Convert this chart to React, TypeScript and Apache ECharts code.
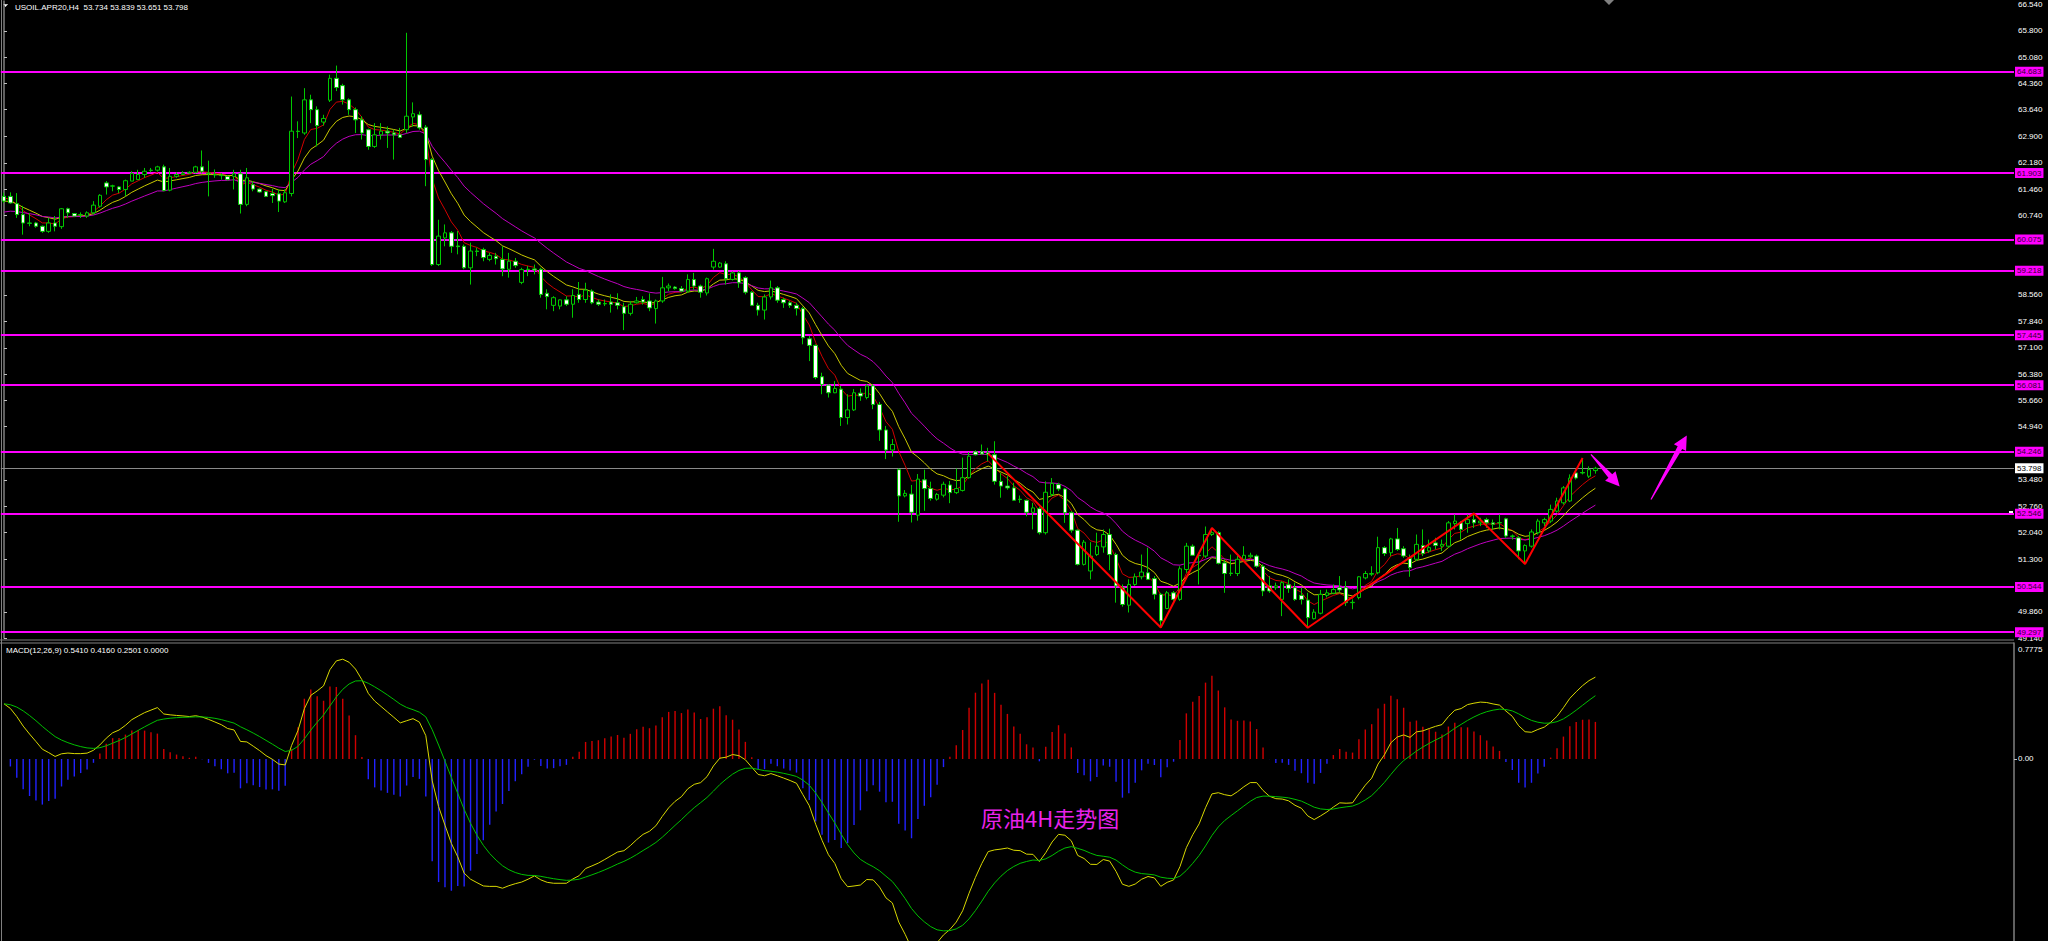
import React, { useEffect, useRef } from "react";
import * as echarts from "echarts";

const FONT = '"Liberation Sans", Arial, sans-serif';

// [open, close, low, high] for each H4 bar
const CANDLES: number[][] = [
  [61.26, 61.13, 61.08, 61.36], [61.26, 61.08, 61.06, 61.37], [61.06, 60.76, 60.67, 61.35], [60.76, 60.53, 60.21, 61.0],
  [60.53, 60.52, 60.44, 60.8], [60.53, 60.44, 60.4, 60.56], [60.44, 60.3, 60.26, 60.46], [60.3, 60.53, 60.26, 60.67],
  [60.53, 60.44, 60.3, 60.72], [60.43, 60.92, 60.37, 60.94], [60.92, 60.81, 60.67, 60.95], [60.79, 60.72, 60.7, 60.8],
  [60.75, 60.76, 60.67, 60.82], [60.72, 60.81, 60.67, 60.85], [60.81, 61.02, 60.76, 61.13], [60.99, 61.29, 60.95, 61.32],
  [61.63, 61.52, 61.31, 61.68], [61.54, 61.55, 61.4, 61.58], [61.52, 61.45, 61.35, 61.54], [61.45, 61.69, 61.26, 61.72],
  [61.68, 61.89, 61.68, 61.95], [61.72, 61.86, 61.72, 61.99], [61.86, 61.95, 61.77, 62.04], [61.97, 61.98, 61.92, 62.04],
  [61.98, 62.07, 61.94, 62.1], [62.07, 61.42, 61.4, 62.13], [61.43, 61.81, 61.4, 62.04], [61.81, 61.86, 61.77, 61.92],
  [61.86, 61.9, 61.84, 61.95], [61.9, 61.92, 61.88, 61.95], [61.92, 62.07, 61.89, 62.1], [62.07, 61.95, 61.89, 62.52],
  [61.9, 61.88, 61.26, 62.24], [61.86, 61.85, 61.77, 62.0], [61.84, 61.83, 61.72, 61.9], [61.81, 61.72, 61.7, 61.83],
  [61.81, 61.88, 61.45, 61.99], [61.88, 61.04, 60.79, 61.99], [61.04, 61.77, 60.99, 62.04], [61.58, 61.46, 61.4, 61.68],
  [61.46, 61.38, 61.36, 61.48], [61.39, 61.26, 61.24, 61.41], [61.34, 61.28, 61.08, 61.47], [61.33, 61.13, 60.83, 61.45],
  [61.11, 61.36, 61.08, 61.45], [61.34, 63.05, 61.26, 64.0], [63.05, 63.04, 62.86, 63.32], [63.0, 63.91, 62.95, 64.23],
  [63.91, 63.64, 63.27, 64.05], [63.64, 63.2, 62.63, 63.73], [63.3, 63.4, 63.2, 63.5], [63.9, 64.5, 63.85, 64.6],
  [64.5, 64.25, 64.15, 64.85], [64.3, 63.91, 63.78, 64.35], [63.91, 63.64, 63.5, 63.95], [63.64, 63.36, 63.0, 63.7],
  [63.36, 63.0, 62.82, 63.46], [63.09, 62.63, 62.54, 63.12], [62.63, 62.95, 62.59, 63.27], [62.95, 63.05, 62.82, 63.27],
  [63.05, 63.0, 62.59, 63.18], [63.0, 62.95, 62.27, 63.09], [62.95, 62.88, 62.86, 63.14], [63.09, 63.46, 63.0, 65.75],
  [63.44, 63.53, 63.18, 63.84], [63.5, 63.14, 63.09, 63.59], [63.16, 62.27, 61.54, 63.22], [62.27, 59.39, 59.35, 62.31],
  [59.39, 60.17, 59.35, 60.62], [60.12, 60.26, 59.89, 60.49], [60.26, 59.89, 59.71, 60.31], [59.9, 59.88, 59.67, 60.31],
  [59.89, 59.3, 59.26, 59.94], [59.3, 59.76, 58.84, 59.99], [59.76, 59.75, 59.62, 59.85], [59.8, 59.58, 59.48, 59.85],
  [59.53, 59.64, 59.48, 59.71], [59.62, 59.55, 59.39, 59.71], [59.53, 59.27, 59.07, 59.89], [59.26, 59.48, 59.03, 59.71],
  [59.48, 59.36, 59.3, 59.57], [58.9, 59.25, 58.85, 59.3], [59.25, 59.26, 59.07, 59.35], [59.27, 59.24, 59.12, 59.39],
  [59.26, 58.57, 58.48, 59.3], [58.6, 58.51, 58.16, 58.71], [58.27, 58.48, 58.11, 58.52], [58.25, 58.42, 58.16, 58.43],
  [58.42, 58.3, 58.25, 58.52], [58.3, 58.54, 57.93, 58.71], [58.57, 58.43, 58.34, 58.91], [58.43, 58.69, 58.34, 58.89],
  [58.66, 58.34, 58.3, 58.71], [58.36, 58.3, 58.25, 58.43], [58.31, 58.32, 58.25, 58.43], [58.36, 58.3, 58.07, 58.57],
  [58.34, 58.27, 58.16, 58.6], [58.23, 58.05, 57.59, 58.34], [58.05, 58.3, 57.99, 58.39], [58.34, 58.39, 58.32, 58.5],
  [58.43, 58.36, 58.29, 58.52], [58.39, 58.2, 58.11, 58.6], [58.18, 58.39, 57.77, 58.43], [58.39, 58.75, 58.34, 59.05],
  [58.75, 58.8, 58.66, 58.87], [58.77, 58.73, 58.7, 58.8], [58.73, 58.66, 58.63, 58.8], [58.66, 58.98, 58.61, 59.12],
  [58.98, 58.8, 58.7, 59.16], [58.8, 58.63, 58.48, 58.84], [58.61, 59.0, 58.54, 59.03], [59.32, 59.48, 59.25, 59.82],
  [59.32, 59.43, 59.3, 59.46], [59.41, 59.0, 58.84, 59.48], [58.98, 59.16, 58.95, 59.2], [59.16, 58.89, 58.75, 59.21],
  [59.03, 58.63, 58.57, 59.07], [58.63, 58.27, 58.25, 58.66], [58.27, 58.14, 57.99, 58.34], [58.14, 58.5, 57.88, 58.57],
  [58.5, 58.75, 58.43, 58.95], [58.75, 58.41, 58.34, 58.8], [58.43, 58.34, 58.2, 58.48], [58.34, 58.27, 58.2, 58.39],
  [58.27, 58.18, 57.99, 58.34], [58.18, 57.38, 57.2, 58.23], [57.35, 57.17, 56.74, 57.43], [57.17, 56.29, 56.24, 57.2],
  [56.31, 56.1, 55.83, 56.42], [56.08, 55.87, 55.74, 56.1], [55.87, 55.99, 55.86, 56.19], [55.97, 55.19, 54.96, 56.06],
  [55.19, 55.4, 55.0, 55.83], [55.4, 55.87, 55.37, 55.97], [55.86, 55.78, 55.65, 55.99], [55.74, 56.06, 55.69, 56.1],
  [56.06, 55.55, 55.42, 56.1], [55.55, 54.85, 54.55, 55.62], [54.85, 54.3, 54.05, 54.96], [54.3, 54.45, 54.12, 54.6],
  [53.76, 53.04, 52.33, 53.79], [53.04, 53.11, 53.0, 53.2], [53.09, 52.59, 52.31, 53.34], [52.51, 53.5, 52.36, 53.64],
  [53.48, 53.24, 52.63, 53.76], [53.24, 52.97, 52.91, 53.43], [52.95, 53.08, 52.91, 53.12], [53.06, 53.36, 53.0, 53.43],
  [53.34, 53.13, 52.84, 53.45], [53.13, 53.24, 53.09, 53.79], [53.19, 53.54, 53.16, 54.09], [53.54, 54.13, 53.51, 54.24],
  [54.25, 54.17, 54.15, 54.29], [54.25, 54.19, 54.17, 54.45], [54.22, 54.17, 53.99, 54.36], [54.17, 53.44, 53.35, 54.54],
  [53.44, 53.31, 52.99, 53.67], [53.31, 53.26, 53.21, 53.58], [53.26, 52.92, 52.9, 53.4], [52.95, 52.94, 52.85, 53.05],
  [52.92, 52.59, 52.48, 52.94], [52.59, 52.71, 52.12, 52.85], [52.69, 52.03, 51.98, 52.74], [52.03, 53.14, 51.98, 53.44],
  [53.08, 53.38, 53.03, 53.53], [53.35, 53.23, 53.17, 53.4], [53.23, 52.58, 52.3, 53.26], [52.58, 52.1, 52.03, 52.62],
  [52.1, 51.16, 51.13, 52.12], [51.16, 51.77, 51.13, 51.83], [50.98, 51.39, 50.75, 51.77], [51.43, 51.66, 51.39, 52.03],
  [51.64, 51.98, 51.48, 52.12], [51.98, 51.43, 51.0, 52.14], [51.43, 50.57, 50.11, 51.48], [50.52, 50.06, 50.0, 50.61],
  [50.04, 50.61, 49.84, 50.75], [50.61, 50.82, 50.57, 50.91], [50.82, 50.95, 50.75, 51.43], [50.93, 50.75, 50.73, 51.62],
  [50.77, 50.34, 50.2, 50.84], [50.34, 49.61, 49.43, 50.38], [49.95, 50.38, 49.93, 50.43], [50.38, 50.2, 50.16, 50.43],
  [50.2, 51.04, 50.16, 51.11], [51.02, 51.66, 50.93, 51.75], [51.66, 51.41, 51.39, 51.71], [51.41, 51.4, 50.61, 51.48],
  [51.39, 51.98, 51.34, 52.2], [51.98, 52.03, 51.94, 52.16], [52.03, 51.19, 51.16, 52.07], [51.2, 50.91, 50.38, 51.3],
  [50.92, 50.91, 50.84, 51.43], [50.91, 51.3, 50.84, 51.39], [51.3, 51.41, 51.25, 51.66], [51.37, 51.41, 51.34, 51.48],
  [51.39, 51.11, 51.07, 51.43], [51.11, 50.43, 50.29, 51.16], [50.57, 50.43, 50.38, 50.84], [50.52, 50.57, 50.46, 50.66],
  [50.2, 50.66, 49.74, 50.7], [50.6, 50.5, 50.38, 50.75], [50.52, 50.2, 50.16, 50.66], [50.31, 50.2, 50.06, 50.52],
  [50.18, 49.7, 49.42, 50.38], [49.67, 49.85, 49.65, 49.93], [49.82, 50.34, 49.79, 50.46], [50.31, 50.38, 50.25, 50.47],
  [50.37, 50.47, 50.34, 50.61], [50.52, 50.46, 50.4, 50.84], [50.52, 50.11, 50.02, 50.7], [50.11, 50.12, 49.93, 50.2],
  [50.25, 50.82, 50.2, 50.84], [50.79, 50.91, 50.75, 50.98], [50.89, 50.91, 50.84, 51.11], [50.93, 51.62, 50.89, 51.92],
  [51.62, 51.46, 51.39, 51.66], [51.48, 51.86, 51.39, 51.89], [51.86, 51.57, 51.53, 52.16], [51.59, 51.39, 51.34, 51.66],
  [51.32, 51.07, 50.82, 51.43], [51.3, 51.71, 51.25, 51.98], [51.68, 51.46, 51.39, 52.12], [51.53, 51.62, 51.48, 51.84],
  [51.75, 51.68, 51.57, 51.89], [51.66, 51.71, 51.53, 51.84], [51.66, 52.3, 51.62, 52.35], [52.28, 52.35, 52.12, 52.53],
  [52.3, 52.12, 51.84, 52.35], [52.28, 52.39, 52.03, 52.53], [52.39, 52.3, 52.16, 52.56], [52.3, 52.35, 52.21, 52.44],
  [52.39, 52.3, 52.16, 52.44], [52.3, 52.26, 52.12, 52.39], [52.3, 52.31, 52.12, 52.53], [52.41, 51.94, 51.89, 52.44],
  [51.94, 51.93, 51.84, 51.98], [51.89, 51.53, 51.3, 51.94], [51.53, 51.68, 51.17, 51.71], [51.66, 52.05, 51.62, 52.12],
  [52.03, 52.35, 51.98, 52.41], [52.3, 52.39, 52.21, 52.44], [52.35, 52.67, 52.3, 52.8], [52.62, 52.9, 52.58, 52.99],
  [52.85, 53.26, 52.8, 53.31], [52.9, 53.53, 52.87, 53.63], [53.67, 53.53, 53.49, 53.76], [53.68, 53.67, 53.63, 54.08],
  [53.58, 53.76, 53.53, 53.85], [53.734, 53.798, 53.651, 53.839],
];

const SLOT_COUNT = 315; // bar slots across the window (right part is empty shift space)
const LEVELS = [64.683, 61.903, 60.075, 59.218, 57.445, 56.081, 54.246, 52.546, 50.544, 49.297];
const CURRENT_PRICE = 53.798;
const PRICE_TICKS = [66.54, 65.8, 65.08, 64.36, 63.64, 62.9, 62.18, 61.46, 60.74, 58.56, 57.84, 57.1, 56.38, 55.66, 54.94, 53.48, 52.76, 52.04, 51.3, 49.86, 49.14];
const PRICE_MIN = 49.14;
const PRICE_MAX = 66.62;
// zigzag pivots [bar index, price]
const ZIGZAG = [[154, 54.2], [181, 49.43], [189, 52.16], [204, 49.42], [230, 52.56], [238, 51.17], [247, 54.08]];
// arrows [tail bar, tail price, tip bar, tip price]
const ARROWS = [[248.3, 54.18, 252.8, 53.3], [257.7, 52.94, 263.3, 54.7]];
const MA_PERIODS = [5, 10, 20];
const MA_COLORS = ["#d00000", "#c8c800", "#c000c0"];
const MA_START = [61.22, 61.13, 60.83];
const MACD_START = [0.37, 0.37]; // MACD and signal at first bar
const MACD_MIN = -1.22;
const MACD_MAX = 0.7775;
const MACD_TICKS = [0];
const TITLE = "USOIL.APR20,H4  53.734 53.839 53.651 53.798";
const MACD_TITLE = "MACD(12,26,9) 0.5410 0.4160 0.2501 0.0000";
const CAPTION = "原油4H走势图";

function emaSeries(values: number[], period: number, seed: number): number[] {
  const k = 2 / (period + 1);
  const out: number[] = [];
  let prev = seed;
  values.forEach((v, i) => {
    prev = i === 0 ? seed : prev + k * (v - prev);
    out.push(+prev.toFixed(4));
  });
  return out;
}

function buildOption() {
  const categories = Array.from({ length: SLOT_COUNT }, (_, i) => String(i));
  const closes = CANDLES.map((c) => c[1]);
  const maLines = MA_PERIODS.map((p, i) => emaSeries(closes, p, MA_START[i]));
  const ema12 = emaSeries(closes, 12, closes[0]);
  const ema26 = emaSeries(closes, 26, closes[0] - MACD_START[0]);
  const macd = ema12.map((v, i) => +(v - ema26[i]).toFixed(4));
  const signal = emaSeries(macd, 9, MACD_START[1]);
  const hist = macd.map((v, i) => +(2 * (v - signal[i])).toFixed(4));

  const gridLeft = 0.8;
  const gridRight = 34;

  const levelMarks: any[] = LEVELS.map((v) => ({
    yAxis: v,
    lineStyle: { color: "#ff00ff", width: 1.8, type: "solid" },
    label: {
      show: true,
      position: "end",
      distance: 1,
      formatter: () => v.toFixed(3),
      backgroundColor: "#ff00ff",
      color: "#300030",
      fontSize: 8,
      fontFamily: FONT,
      padding: [1, 2, 1, 2],
    },
  }));
  levelMarks.push({
    yAxis: CURRENT_PRICE,
    lineStyle: { color: "#8a8a8a", width: 1, type: "solid" },
    label: {
      show: true,
      position: "end",
      distance: 1,
      formatter: () => CURRENT_PRICE.toFixed(3),
      backgroundColor: "#ffffff",
      color: "#000000",
      fontSize: 8,
      fontFamily: FONT,
      padding: [1, 2, 1, 2],
    },
  });

  return {
    animation: false,
    backgroundColor: "#000000",
    textStyle: { fontFamily: FONT },
    grid: [
      { left: gridLeft, right: gridRight, top: 0, height: 638 },
      { left: gridLeft, right: gridRight, top: 643, height: 298 },
    ],
    xAxis: [
      { type: "category", gridIndex: 0, data: categories, show: false, boundaryGap: true },
      { type: "category", gridIndex: 1, data: categories, show: false, boundaryGap: true },
      { type: "value", gridIndex: 0, min: -0.5, max: SLOT_COUNT - 0.5, show: false },
    ],
    yAxis: [
      {
        type: "value",
        gridIndex: 0,
        position: "right",
        min: PRICE_MIN,
        max: PRICE_MAX,
        splitLine: { show: false },
        axisLine: { show: true, lineStyle: { color: "#808080", width: 1.5 } },
        axisTick: { show: true, length: 3, customValues: PRICE_TICKS, lineStyle: { color: "#c0c0c0" } },
        axisLabel: {
          customValues: PRICE_TICKS,
          formatter: (v: number) => v.toFixed(3),
          color: "#ffffff",
          fontSize: 8,
          margin: 4,
          fontFamily: FONT,
        },
      },
      {
        type: "value",
        gridIndex: 1,
        position: "right",
        min: MACD_MIN,
        max: MACD_MAX,
        splitLine: { show: false },
        axisLine: { show: true, lineStyle: { color: "#808080", width: 1.5 } },
        axisTick: { show: true, length: 3, customValues: MACD_TICKS, lineStyle: { color: "#c0c0c0" } },
        axisLabel: {
          customValues: MACD_TICKS,
          formatter: (v: number) => v.toFixed(2),
          color: "#ffffff",
          fontSize: 8,
          margin: 4,
          fontFamily: FONT,
        },
      },
    ],
    series: [
      {
        type: "candlestick",
        xAxisIndex: 0,
        yAxisIndex: 0,
        data: CANDLES,
        barWidth: 4,
        z: 4,
        itemStyle: {
          color: "#000000",
          color0: "#ffffff",
          borderColor: "#00c800",
          borderColor0: "#00c800",
          borderWidth: 1,
        },
        markLine: {
          silent: true,
          symbol: ["none", "none"],
          animation: false,
          z: 1,
          data: levelMarks,
        },
      },
      ...maLines.map((line, i) => ({
        type: "line",
        xAxisIndex: 0,
        yAxisIndex: 0,
        data: line,
        showSymbol: false,
        z: 3,
        lineStyle: { color: MA_COLORS[i], width: 1 },
      })),
      {
        type: "line",
        xAxisIndex: 2,
        yAxisIndex: 0,
        data: ZIGZAG,
        showSymbol: false,
        z: 6,
        lineStyle: { color: "#ff0000", width: 2 },
      },
      {
        type: "custom",
        xAxisIndex: 2,
        yAxisIndex: 0,
        data: ARROWS,
        z: 7,
        silent: true,
        encode: { x: [0, 2], y: [1, 3] },
        renderItem: (_params: any, api: any) => {
          const t = api.coord([api.value(0), api.value(1)]);
          const p = api.coord([api.value(2), api.value(3)]);
          const dx = p[0] - t[0];
          const dy = p[1] - t[1];
          const len = Math.hypot(dx, dy) || 1;
          const ux = dx / len;
          const uy = dy / len;
          const nx = -uy;
          const ny = ux;
          const head = 14;
          const hw = 7;
          const bw = 2.6;
          const tw = 0.6;
          const bx = p[0] - ux * head;
          const by = p[1] - uy * head;
          const points = [
            [t[0] + nx * tw, t[1] + ny * tw],
            [bx + nx * bw, by + ny * bw],
            [bx + nx * hw, by + ny * hw],
            [p[0], p[1]],
            [bx - nx * hw, by - ny * hw],
            [bx - nx * bw, by - ny * bw],
            [t[0] - nx * tw, t[1] - ny * tw],
          ];
          return { type: "polygon", shape: { points }, style: { fill: "#ff00ff" } };
        },
      },
      {
        type: "bar",
        xAxisIndex: 1,
        yAxisIndex: 1,
        data: hist,
        barWidth: 1.4,
        itemStyle: { color: (p: any) => (p.value >= 0 ? "#d00000" : "#2222ff") },
      },
      {
        type: "line",
        xAxisIndex: 1,
        yAxisIndex: 1,
        data: macd,
        showSymbol: false,
        lineStyle: { color: "#d8d800", width: 1 },
      },
      {
        type: "line",
        xAxisIndex: 1,
        yAxisIndex: 1,
        data: signal,
        showSymbol: false,
        lineStyle: { color: "#00c000", width: 1 },
      },
    ],
    graphic: [
      { type: "line", shape: { x1: 1.5, y1: 0, x2: 1.5, y2: 941 }, style: { stroke: "#808080", lineWidth: 1 } },
      { type: "line", shape: { x1: 0, y1: 640, x2: 2014, y2: 640 }, style: { stroke: "#808080", lineWidth: 1 } },
      { type: "line", shape: { x1: 0, y1: 643, x2: 2014, y2: 643 }, style: { stroke: "#808080", lineWidth: 1 } },
      { type: "polygon", shape: { points: [[3, 4], [8, 4], [5.5, 7]] }, style: { fill: "#ffffff" } },
      { type: "polygon", shape: { points: [[1604, 0], [1614, 0], [1609, 5]] }, style: { fill: "#808080" } },
      { type: "rect", shape: { x: 2009, y: 511, width: 4, height: 4 }, style: { fill: "#ffffff" } },
      {
        type: "text",
        x: 15,
        y: 7,
        style: { text: TITLE, fill: "#ffffff", fontSize: 8, fontFamily: FONT, verticalAlign: "middle" },
      },
      {
        type: "text",
        x: 6,
        y: 650,
        style: { text: MACD_TITLE, fill: "#ffffff", fontSize: 8, fontFamily: FONT, verticalAlign: "middle" },
      },
      {
        type: "text",
        x: 2018,
        y: 649,
        style: { text: MACD_MAX.toFixed(4), fill: "#ffffff", fontSize: 8, fontFamily: FONT, verticalAlign: "middle" },
      },
      {
        type: "text",
        x: 981,
        y: 817,
        style: {
          text: CAPTION,
          fill: "#ea22ea",
          fontSize: 22,
          fontFamily: '"Noto Sans CJK SC", sans-serif',
          verticalAlign: "middle",
        },
      },
    ],
  };
}

export default function App() {
  const ref = useRef<HTMLDivElement>(null);
  useEffect(() => {
    if (!ref.current) return;
    const chart = echarts.init(ref.current, null, { renderer: "svg" });
    chart.setOption(buildOption() as any);
    return () => chart.dispose();
  }, []);
  return (
    <div
      ref={ref}
      style={{ position: "fixed", left: 0, top: 0, width: 2048, height: 941, background: "#000000" }}
    />
  );
}
